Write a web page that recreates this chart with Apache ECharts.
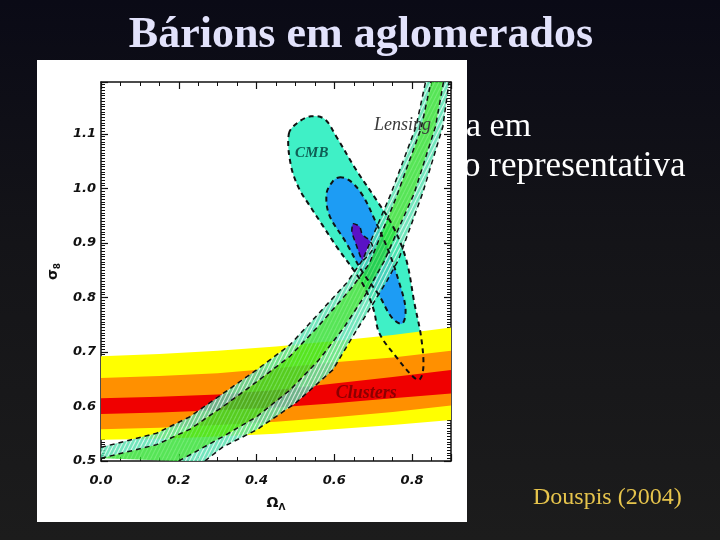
<!DOCTYPE html>
<html><head><meta charset="utf-8">
<script src="https://cdn.jsdelivr.net/npm/echarts@6/dist/echarts.min.js"></script>
<style>html,body{margin:0;padding:0;background:#111}#c{width:720px;height:540px}</style>
</head><body><div id="c"></div>
<script>
// ---- tick labels ----
const xTickLabels = ['0.0', '0.2', '0.4', '0.6', '0.8'];
const yTickLabels = ['0.5', '0.6', '0.7', '0.8', '0.9', '1.0', '1.1'];

// ---- Clusters bands (sigma8 vs Omega_Lambda) ----
const clusterX = [0, 0.15, 0.3, 0.45, 0.6, 0.75, 0.9];
const clusterYellowTop = [0.692, 0.696, 0.702, 0.710, 0.720, 0.731, 0.745];
const clusterOrangeTop = [0.652, 0.656, 0.661, 0.670, 0.681, 0.690, 0.702];
const clusterRedTop = [0.615, 0.618, 0.622, 0.630, 0.642, 0.654, 0.667];
const clusterRedBottom = [0.586, 0.589, 0.593, 0.598, 0.606, 0.615, 0.624];
const clusterOrangeBottom = [0.558, 0.561, 0.566, 0.572, 0.580, 0.590, 0.602];
const clusterYellowBottom = [0.539, 0.541, 0.545, 0.550, 0.558, 0.566, 0.575];

// ---- Lensing band boundaries ----
const lensOuterUpper = [[0, 0.525], [0.143, 0.551], [0.228, 0.581], [0.314, 0.624], [0.40, 0.667], [0.486, 0.713], [0.545, 0.759], [0.631, 0.826], [0.673, 0.869], [0.746, 0.991], [0.81, 1.113], [0.836, 1.2]];
const lensInnerUpper = [[0, 0.505], [0.143, 0.530], [0.228, 0.558], [0.314, 0.600], [0.40, 0.645], [0.486, 0.692], [0.56, 0.748], [0.645, 0.818], [0.69, 0.862], [0.76, 0.985], [0.823, 1.11], [0.85, 1.2]];
const lensInnerLower = [[0.20, 0.5], [0.314, 0.545], [0.40, 0.581], [0.486, 0.630], [0.56, 0.685], [0.625, 0.745], [0.68, 0.805], [0.728, 0.866], [0.758, 0.915], [0.805, 0.99], [0.86, 1.113], [0.882, 1.2]];
const lensOuterLower = [[0.267, 0.5], [0.314, 0.526], [0.40, 0.557], [0.50, 0.606], [0.596, 0.667], [0.647, 0.728], [0.70, 0.789], [0.735, 0.83], [0.765, 0.869], [0.827, 0.991], [0.879, 1.113], [0.896, 1.2]];

// ---- CMB contours ----
const cmbOuter = [[0.483, 1.10], [0.505, 1.12], [0.54, 1.132], [0.575, 1.127], [0.605, 1.095], [0.656, 1.034], [0.708, 0.979], [0.751, 0.930], [0.785, 0.869], [0.806, 0.789], [0.823, 0.728], [0.829, 0.673], [0.819, 0.649], [0.802, 0.655], [0.759, 0.691], [0.716, 0.734], [0.70, 0.78], [0.672, 0.826], [0.603, 0.896], [0.569, 0.933], [0.535, 0.970], [0.509, 1.0], [0.488, 1.043]];
const cmbMiddle = [[0.612, 1.02], [0.638, 1.015], [0.672, 0.988], [0.706, 0.939], [0.740, 0.884], [0.766, 0.829], [0.783, 0.780], [0.775, 0.752], [0.749, 0.762], [0.714, 0.805], [0.672, 0.847], [0.629, 0.902], [0.587, 0.951], [0.580, 0.99], [0.595, 1.012]];
const cmbInner = [[0.648, 0.935], [0.665, 0.93], [0.672, 0.915], [0.69, 0.905], [0.70, 0.89], [0.685, 0.875], [0.672, 0.868], [0.662, 0.885], [0.652, 0.905], [0.645, 0.92]];

// ---- annotations ----
const labelText = ['CMB', 'Lensing', 'Clusters'];
const labelPos = [[0.542, 1.065], [0.775, 1.115], [0.682, 0.624]];

// ---------------------------------------------------------------
function band(top, bottom) {
  const pts = clusterX.map((x, i) => [x, top[i]]);
  for (let i = clusterX.length - 1; i >= 0; i--) pts.push([clusterX[i], bottom[i]]);
  return pts;
}
function rev(a) { return a.slice().reverse(); }

function hatch(base, stripe, w) {
  const c = document.createElement('canvas');
  c.width = 4; c.height = 8;
  const g = c.getContext('2d');
  g.fillStyle = base; g.fillRect(0, 0, 4, 8);
  g.strokeStyle = stripe; g.lineWidth = w;
  for (const dx of [-4, 0, 4]) { g.beginPath(); g.moveTo(dx, 8); g.lineTo(dx + 4, 0); g.stroke(); }
  return { image: c, repeat: 'repeat' };
}

function polySeries(pts, fill, z, smooth) {
  return {
    type: 'custom', coordinateSystem: 'cartesian2d', clip: true, silent: true, z: z,
    data: [pts[0]],
    renderItem: (params, api) => ({
      type: 'polygon',
      shape: { points: pts.map(p => api.coord(p)), smooth: smooth || 0 },
      style: { fill: fill, stroke: null }
    })
  };
}
function dashSeries(pts, closed, z, smooth, w) {
  return {
    type: 'custom', coordinateSystem: 'cartesian2d', clip: true, silent: true, z: z,
    data: [pts[0]],
    renderItem: (params, api) => ({
      type: closed ? 'polygon' : 'polyline',
      shape: { points: pts.map(p => api.coord(p)), smooth: smooth || 0 },
      style: { fill: null, stroke: '#111', lineWidth: w || 1.5, lineDash: [5, 4] }
    })
  };
}

const labelStyles = [
  { font: 'italic bold 15px "Liberation Serif"', fill: '#0f5f55' },
  { font: 'italic 18px "Liberation Serif"', fill: '#3a3a3a' },
  { font: 'italic bold 18px "Liberation Serif"', fill: '#8a0000' }
];

const lensOuterFill = hatch('rgba(80,224,172,0.8)', 'rgba(255,255,255,0.7)', 1.1);
const lensInnerFill = hatch('rgba(40,222,40,0.78)', 'rgba(150,245,150,0.45)', 1.1);

const series = [
  polySeries(cmbOuter, '#3ff0c6', 2, 0.35),
  polySeries(cmbMiddle, '#1d9cf4', 3, 0.35),
  polySeries(cmbInner, '#5a12c6', 4, 0.2),
  polySeries(band(clusterYellowTop, clusterYellowBottom), '#ffff00', 5),
  polySeries(band(clusterOrangeTop, clusterOrangeBottom), '#ff9000', 6),
  polySeries(band(clusterRedTop, clusterRedBottom), '#f00000', 7),
  polySeries(lensOuterUpper.concat(rev(lensInnerUpper)), lensOuterFill, 8),
  polySeries(lensInnerLower.concat(rev(lensOuterLower)), lensOuterFill, 8),
  polySeries(lensInnerUpper.concat(rev(lensInnerLower)), lensInnerFill, 8),
  dashSeries(lensOuterUpper, false, 9),
  dashSeries(lensInnerUpper, false, 9),
  dashSeries(lensInnerLower, false, 9),
  dashSeries(lensOuterLower, false, 9),
  dashSeries(cmbOuter, true, 9, 0.35, 2),
  dashSeries(cmbMiddle, true, 9, 0.35, 2),
  dashSeries(cmbInner, true, 9, 0.2, 1.5),
  {
    type: 'custom', coordinateSystem: 'cartesian2d', silent: true, z: 10,
    data: labelPos,
    renderItem: (params, api) => {
      const i = params.dataIndex;
      const p = api.coord(labelPos[i]);
      return { type: 'text', x: p[0], y: p[1],
        style: Object.assign({ text: labelText[i], align: 'center', verticalAlign: 'middle' }, labelStyles[i]) };
    }
  }
];

const tickFont = { fontStyle: 'italic', fontWeight: 'bold', fontSize: 13, fontFamily: 'DejaVu Sans', color: '#111' };
function xAxisDef(pos, labels) {
  return {
    type: 'value', position: pos, min: 0, max: 0.9, interval: 0.2,
    axisLine: { onZero: false, lineStyle: { color: '#111', width: 1.5 } },
    axisTick: { inside: true, length: 7, lineStyle: { color: '#111', width: 1.2 } },
    minorTick: { show: true, splitNumber: 4, length: 4, lineStyle: { color: '#111', width: 1 } },
    splitLine: { show: false },
    axisLabel: Object.assign({ show: labels, margin: 13, showMaxLabel: false,
      formatter: v => xTickLabels[Math.round(v / 0.2)] || '' }, tickFont),
    name: labels ? '{a|Ω}{s|Λ}' : '', nameLocation: 'middle', nameGap: 33,
    nameTextStyle: { rich: {
      a: { fontSize: 14, fontWeight: 'bold', fontFamily: 'DejaVu Sans', color: '#111' },
      s: { fontSize: 9, fontWeight: 'bold', fontFamily: 'DejaVu Sans', color: '#111', padding: [9, 0, 0, 0] } } }
  };
}
function yAxisDef(pos, labels) {
  return {
    type: 'value', position: pos, min: 0.5, max: 1.195, interval: 0.1,
    axisLine: { onZero: false, lineStyle: { color: '#111', width: 1.5 } },
    axisTick: { inside: true, length: 7, lineStyle: { color: '#111', width: 1.2 } },
    minorTick: { show: true, splitNumber: 20, length: 4, lineStyle: { color: '#111', width: 1 } },
    splitLine: { show: false },
    axisLabel: Object.assign({ show: labels, margin: 5, showMaxLabel: false,
      formatter: v => yTickLabels[Math.round((v - 0.5) / 0.1)] || '' }, tickFont),
    name: labels ? '{a|σ}{s|8}' : '', nameLocation: 'middle', nameGap: 39, nameRotate: 90,
    nameTextStyle: { rich: {
      a: { fontSize: 14, fontWeight: 'bold', fontFamily: 'DejaVu Sans', color: '#111' },
      s: { fontSize: 9, fontWeight: 'bold', fontFamily: 'DejaVu Sans', color: '#111', padding: [9, 0, 0, 0] } } }
  };
}

const chart = echarts.init(document.getElementById('c'), null, { renderer: 'canvas' });
chart.setOption({
  animation: false,
  grid: { left: 101, right: 269, top: 82, bottom: 79, containLabel: false, show: false },
  xAxis: [xAxisDef('bottom', true), xAxisDef('top', false)],
  yAxis: [yAxisDef('left', true), yAxisDef('right', false)],
  graphic: [
    { type: 'rect', z: -30, silent: true, shape: { x: 0, y: 0, width: 720, height: 540 },
      style: { fill: new echarts.graphic.LinearGradient(0, 0, 0, 1, [
        { offset: 0, color: '#0a0a16' }, { offset: 0.45, color: '#141418' }, { offset: 1, color: '#1c1c1c' }]) } },
    { type: 'text', z: -25, silent: true, style: { text: 'a em', x: 466, y: 127, font: '34px "Liberation Serif"', fill: '#ffffff', textVerticalAlign: 'middle', verticalAlign: 'middle' } },
    { type: 'text', z: -25, silent: true, style: { text: 'o representativa', x: 463, y: 167, font: '35px "Liberation Serif"', fill: '#ffffff', textVerticalAlign: 'middle', verticalAlign: 'middle' } },
    { type: 'rect', z: -20, silent: true, shape: { x: 37, y: 60, width: 430, height: 462 }, style: { fill: '#ffffff' } },
    { type: 'text', z: -15, silent: true, style: { text: 'Bárions em aglomerados', x: 361, y: 36, font: 'bold 44px "Liberation Serif"', fill: '#e2e2fb', textAlign: 'center', align: 'center', textVerticalAlign: 'middle', verticalAlign: 'middle' } },
    { type: 'text', z: -15, silent: true, style: { text: 'Douspis (2004)', x: 533, y: 498, font: '24px "Liberation Serif"', fill: '#e6c44c', textVerticalAlign: 'middle', verticalAlign: 'middle' } }
  ],
  series: series
});
</script></body></html>
